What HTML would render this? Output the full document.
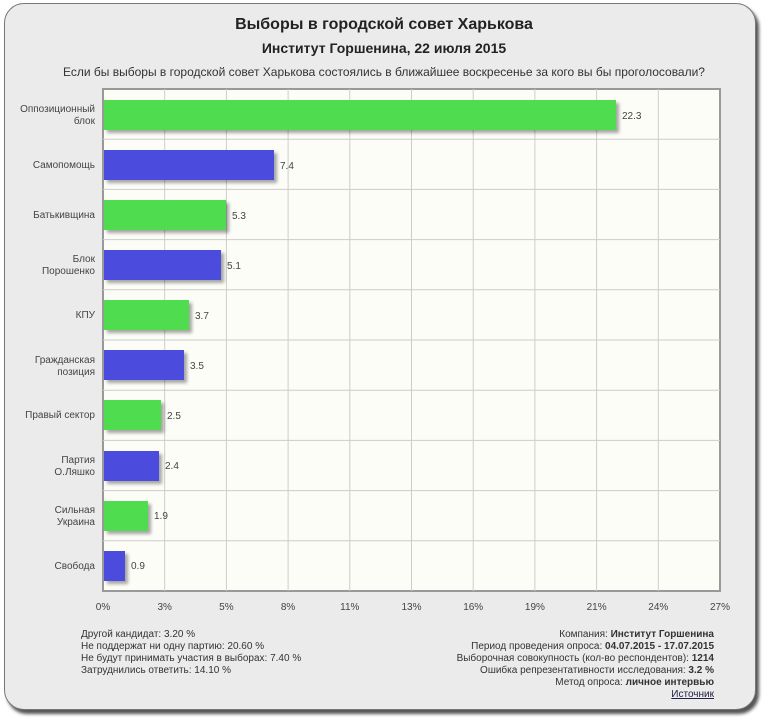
<!DOCTYPE html>
<html><head><meta charset="utf-8"><style>
body{margin:0;width:768px;height:726px;background:#fff;font-family:"Liberation Sans",sans-serif;overflow:hidden}
.card{position:absolute;left:4px;top:3px;width:750px;height:705px;background:#ebebeb;border:1px solid #777;border-radius:20px;box-shadow:3px 4px 3px #555}
</style></head><body>
<div class="card"></div>
<svg width="768" height="726" style="position:absolute;left:0;top:0" font-family="Liberation Sans, sans-serif">
<defs><filter id="s" x="-10%" y="-10%" width="130%" height="150%"><feDropShadow dx="3" dy="3" stdDeviation="1.5" flood-color="#000" flood-opacity="0.35"/></filter></defs>
<text x="384" y="29" text-anchor="middle" font-size="16" font-weight="bold" fill="#222">Выборы в городской совет Харькова</text>
<text x="384" y="53" text-anchor="middle" font-size="14" font-weight="bold" fill="#222">Институт Горшенина, 22 июля 2015</text>
<text x="384" y="76" text-anchor="middle" font-size="12" fill="#333">Если бы выборы в городской совет Харькова состоялись в ближайшее воскресенье за кого вы бы проголосовали?</text>
<rect x="103" y="89" width="617" height="502" fill="#fdfdf8" stroke="#999" stroke-width="2"/>
<g stroke="#ccc" stroke-width="1">
<line x1="164.7" y1="89" x2="164.7" y2="591"/><line x1="226.4" y1="89" x2="226.4" y2="591"/><line x1="288.1" y1="89" x2="288.1" y2="591"/><line x1="349.8" y1="89" x2="349.8" y2="591"/><line x1="411.5" y1="89" x2="411.5" y2="591"/><line x1="473.2" y1="89" x2="473.2" y2="591"/><line x1="534.9" y1="89" x2="534.9" y2="591"/><line x1="596.6" y1="89" x2="596.6" y2="591"/><line x1="658.3" y1="89" x2="658.3" y2="591"/>
<line x1="103" y1="139.2" x2="720" y2="139.2"/><line x1="103" y1="189.4" x2="720" y2="189.4"/><line x1="103" y1="239.6" x2="720" y2="239.6"/><line x1="103" y1="289.8" x2="720" y2="289.8"/><line x1="103" y1="340" x2="720" y2="340"/><line x1="103" y1="390.2" x2="720" y2="390.2"/><line x1="103" y1="440.4" x2="720" y2="440.4"/><line x1="103" y1="490.6" x2="720" y2="490.6"/><line x1="103" y1="540.8" x2="720" y2="540.8"/>
</g>
<g filter="url(#s)">
<rect x="104" y="100" width="512" height="30" fill="#4fdd4f"/>
<rect x="104" y="150" width="170" height="30" fill="#4b4bdd"/>
<rect x="104" y="200" width="122" height="30" fill="#4fdd4f"/>
<rect x="104" y="250" width="117" height="30" fill="#4b4bdd"/>
<rect x="104" y="300" width="85" height="30" fill="#4fdd4f"/>
<rect x="104" y="350" width="80" height="30" fill="#4b4bdd"/>
<rect x="104" y="400" width="57" height="30" fill="#4fdd4f"/>
<rect x="104" y="451" width="55" height="30" fill="#4b4bdd"/>
<rect x="104" y="501" width="44" height="30" fill="#4fdd4f"/>
<rect x="104" y="551" width="21" height="30" fill="#4b4bdd"/>
</g>
<g font-size="10" fill="#444">
<text x="622" y="119">22.3</text><text x="280" y="169">7.4</text><text x="232" y="219">5.3</text><text x="227" y="269">5.1</text><text x="195" y="319">3.7</text><text x="190" y="369">3.5</text><text x="167" y="419">2.5</text><text x="165" y="469">2.4</text><text x="154" y="519">1.9</text><text x="131" y="569">0.9</text>
</g>
<g font-size="10" fill="#444" text-anchor="end">
<text x="95" y="112">Оппозиционный</text><text x="95" y="124">блок</text>
<text x="95" y="168">Самопомощь</text>
<text x="95" y="218">Батькивщина</text>
<text x="95" y="262">Блок</text><text x="95" y="274">Порошенко</text>
<text x="95" y="318">КПУ</text>
<text x="95" y="363">Гражданская</text><text x="95" y="375">позиция</text>
<text x="95" y="418">Правый сектор</text>
<text x="95" y="463">Партия</text><text x="95" y="475">О.Ляшко</text>
<text x="95" y="513">Сильная</text><text x="95" y="525">Украина</text>
<text x="95" y="569">Свобода</text>
</g>
<g font-size="10" fill="#444" text-anchor="middle">
<text x="103" y="610">0%</text><text x="164.7" y="610">3%</text><text x="226.4" y="610">5%</text><text x="288.1" y="610">8%</text><text x="349.8" y="610">11%</text><text x="411.5" y="610">13%</text><text x="473.2" y="610">16%</text><text x="534.9" y="610">19%</text><text x="596.6" y="610">21%</text><text x="658.3" y="610">24%</text><text x="720" y="610">27%</text>
</g>
<g font-size="10" fill="#333">
<text x="81" y="637">Другой кандидат: 3.20 %</text>
<text x="81" y="649">Не поддержат ни одну партию: 20.60 %</text>
<text x="81" y="661">Не будут принимать участия в выборах: 7.40 %</text>
<text x="81" y="673">Затруднились ответить: 14.10 %</text>
</g>
<g font-size="10" fill="#333" text-anchor="end">
<text x="714" y="637">Компания: <tspan font-weight="bold">Институт Горшенина</tspan></text>
<text x="714" y="649">Период проведения опроса: <tspan font-weight="bold">04.07.2015 - 17.07.2015</tspan></text>
<text x="714" y="661">Выборочная совокупность (кол-во респондентов): <tspan font-weight="bold">1214</tspan></text>
<text x="714" y="673">Ошибка репрезентативности исследования: <tspan font-weight="bold">3.2 %</tspan></text>
<text x="714" y="685">Метод опроса: <tspan font-weight="bold">личное интервью</tspan></text>
<text x="714" y="697" text-decoration="underline" fill="#224">Источник</text>
</g>
</svg>
</body></html>
